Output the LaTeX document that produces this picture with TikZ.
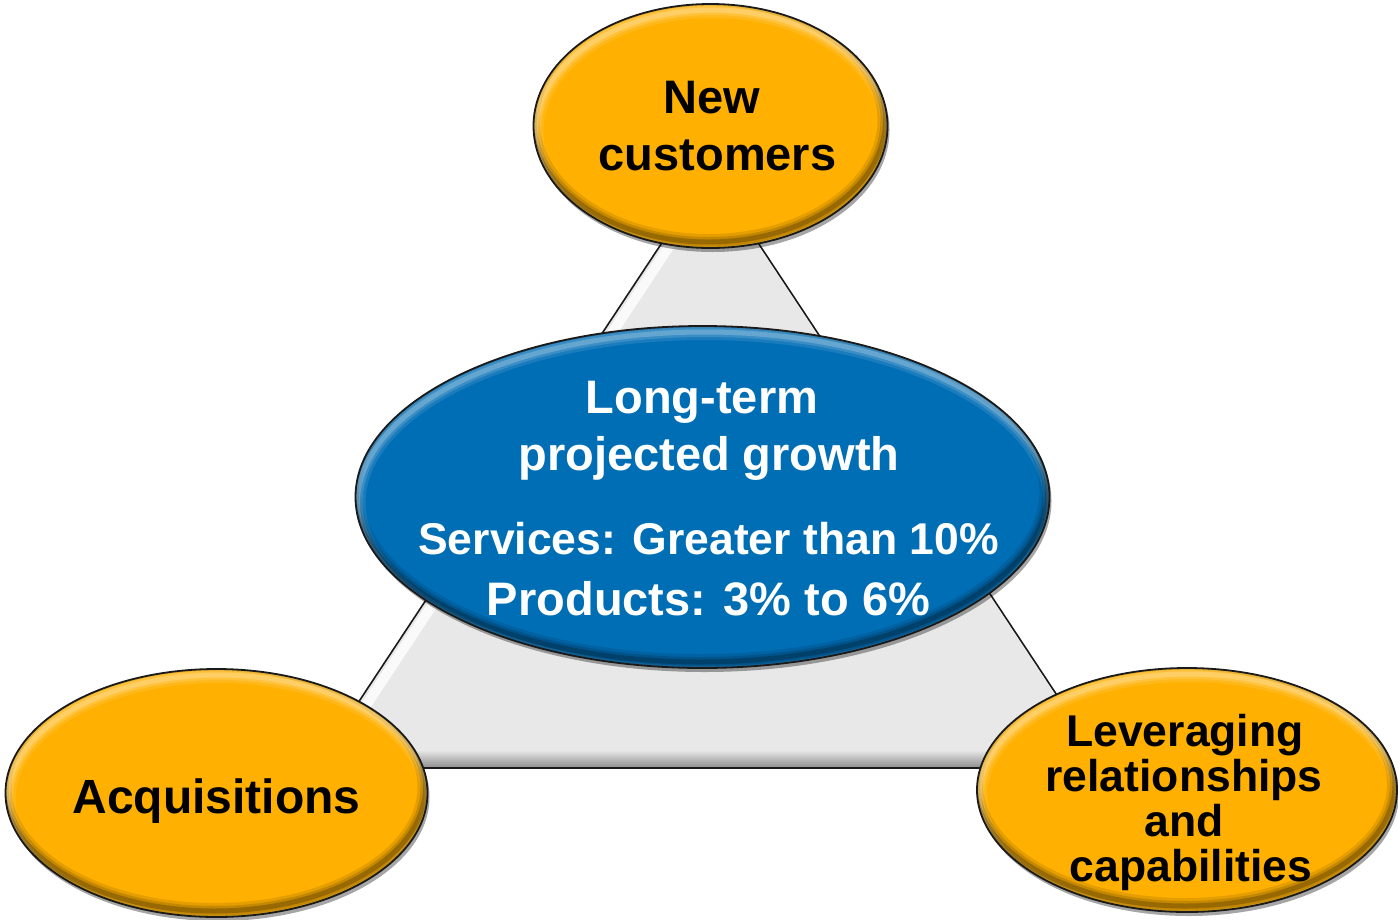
\documentclass[tikz,border=0pt]{standalone}
\usepackage{fontspec}
\setmainfont{Liberation Sans}
\usetikzlibrary{shapes.geometric}

\definecolor{gold}{HTML}{FFB000}
\definecolor{ocean}{HTML}{006EB5}
\definecolor{plate}{HTML}{E8E8E8}
\definecolor{rim}{HTML}{1A1A1A}

\tikzset{
  lbl/.style={anchor=base, inner sep=0pt, font=\bfseries\fontsize{47}{47}\selectfont},
  lblsm/.style={lbl, font=\bfseries\fontsize{44.5}{44.5}\selectfont},
  lblbig/.style={lbl, font=\bfseries\fontsize{48}{48}\selectfont},
}

% bevelled ellipse: centre x, centre y, x radius, y radius, fill colour
\newcommand{\bevelellipse}[5]{%
  \fill[black,opacity=0.35] (#1+2,#2+4) ellipse [x radius=#3, y radius=#4];
  \fill[#5] (#1,#2) ellipse [x radius=#3, y radius=#4];
  \begin{scope}
    \clip (#1,#2) ellipse [x radius=#3, y radius=#4];
    \foreach \w/\o in {16/0.10,10/0.14,5/0.22}{
      \draw[white,opacity=\o,line width=\w] (#1+2,#2+6) ellipse [x radius=#3, y radius=#4];
      \draw[black,opacity=\o,line width=\w] (#1-2,#2-6) ellipse [x radius=#3, y radius=#4];
    }
  \end{scope}
  \draw[rim,line width=1.8] (#1,#2) ellipse [x radius=#3, y radius=#4];
}

\begin{document}
\begin{tikzpicture}[x=1pt,y=-1pt]
  \useasboundingbox (0,0) rectangle (1398,919);
  \fill[white] (0,0) rectangle (1398,919);

  % grey triangle behind the ellipses
  \coordinate (apex) at (710,170);
  \coordinate (bl) at (315,768);
  \coordinate (br) at (1105,768);
  \fill[plate] (apex) -- (bl) -- (br) -- cycle;
  \begin{scope}
    \clip (apex) -- (bl) -- (br) -- cycle;
    \draw[white,opacity=0.8,line width=10] ([shift={(7,4)}]apex) -- ([shift={(7,4)}]bl) -- ([shift={(7,4)}]br) -- cycle;
    \shade[top color=plate, bottom color=black!45] (300,750) rectangle (1120,768);
  \end{scope}
  \draw[rim,line width=1.6,line join=miter] (apex) -- (bl) -- (br) -- cycle;

  % outer ellipses
  \bevelellipse{710.5}{126}{177}{122}{gold}
  \bevelellipse{216.5}{793}{211}{124}{gold}
  \bevelellipse{1187}{790}{210}{122}{gold}

  % central ellipse
  \bevelellipse{702.5}{497}{347}{171}{ocean}

  % labels
  \node[lbl] (new) at (711.5,113) {New};
  \node[lbl] (cust) at (717.5,170) {customers};

  \node[lblbig] (acq) at (216.5,813) {Acquisitions};

  \node[lblsm] (lev) at (1185,746) {Leveraging};
  \node[lblsm] (rel) at (1184,791) {relationships};
  \node[lblsm] (and) at (1184,836.5) {and};
  \node[lblsm] (cap) at (1191,881) {capabilities};

  \node[lbl,white] (long) at (702,413) {Long-term};
  \node[lbl,white] (proj) at (709,470) {projected growth};
  \node[lblsm,white] (serv) at (708.5,554) {Services: Greater than 10\%};
  \node[lbl,white] (prod) at (708.5,615) {Products: 3\% to 6\%};
\end{tikzpicture}
\end{document}
